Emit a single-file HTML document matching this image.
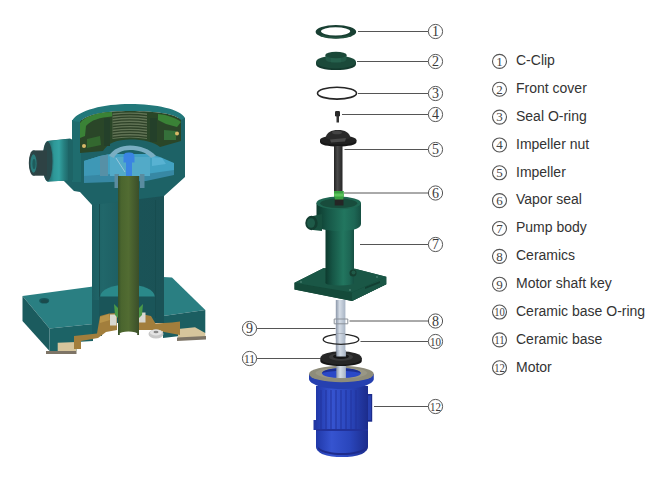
<!DOCTYPE html>
<html><head><meta charset="utf-8">
<style>
html,body{margin:0;padding:0;background:#fff;}
body{width:660px;height:500px;overflow:hidden;position:relative;font-family:"Liberation Sans",sans-serif;}
svg{position:absolute;left:0;top:0;}
.lg{position:absolute;left:516px;font-size:14px;color:#333;white-space:nowrap;line-height:16px;}
</style></head><body>
<svg width="660" height="500" viewBox="0 0 660 500">
<defs>
  <linearGradient id="colG" x1="0" x2="1" y1="0" y2="0">
    <stop offset="0" stop-color="#1c5e62"/><stop offset="0.15" stop-color="#21676a"/><stop offset="0.35" stop-color="#1e6064"/><stop offset="0.65" stop-color="#1a5357"/><stop offset="1" stop-color="#1b5256"/>
  </linearGradient>
  <linearGradient id="shaftG" x1="0" x2="1">
    <stop offset="0" stop-color="#36502a"/><stop offset="0.15" stop-color="#4a652e"/><stop offset="0.5" stop-color="#526c32"/><stop offset="1" stop-color="#3a4e2a"/>
  </linearGradient>
  <linearGradient id="flangeG" x1="0" x2="0" y1="0" y2="1">
    <stop offset="0" stop-color="#2e9595"/><stop offset="0.5" stop-color="#2a8585"/><stop offset="1" stop-color="#1d5c5e"/>
  </linearGradient>
  <linearGradient id="pbG" x1="0" x2="1">
    <stop offset="0" stop-color="#0d3a2e"/><stop offset="0.25" stop-color="#165646"/><stop offset="0.62" stop-color="#22765f"/><stop offset="0.85" stop-color="#1d6654"/><stop offset="1" stop-color="#164f42"/>
  </linearGradient>
  <linearGradient id="shG" x1="0" x2="1">
    <stop offset="0" stop-color="#8a96a8"/><stop offset="0.4" stop-color="#d4dce6"/><stop offset="1" stop-color="#a8b4c4"/>
  </linearGradient>
  <linearGradient id="motG" x1="0" x2="1">
    <stop offset="0" stop-color="#2038a8"/><stop offset="0.3" stop-color="#3654d0"/><stop offset="0.65" stop-color="#2a46bc"/><stop offset="1" stop-color="#1c2c8c"/>
  </linearGradient>
  <linearGradient id="motG2" x1="0" x2="1">
    <stop offset="0" stop-color="#2440b4"/><stop offset="0.4" stop-color="#3050cc"/><stop offset="1" stop-color="#2236a0"/>
  </linearGradient>
  <linearGradient id="flG" x1="0" x2="1">
    <stop offset="0" stop-color="#1f6c6c"/><stop offset="0.3" stop-color="#2e9898"/><stop offset="0.55" stop-color="#33a2a2"/><stop offset="0.8" stop-color="#268080"/><stop offset="1" stop-color="#1f6a6c"/>
  </linearGradient>
  <linearGradient id="impG" x1="0" x2="1">
    <stop offset="0" stop-color="#222"/><stop offset="0.4" stop-color="#4a4a4a"/><stop offset="1" stop-color="#262626"/>
  </linearGradient>
</defs>

<!-- ============ LEFT CUTAWAY ============ -->
<g id="left">
  <!-- base left -->
  <polygon points="22.5,296 93,286.5 93,324 49.5,328.5" fill="#2a7f82"/>
  <polygon points="22.5,296 49.5,328.5 49.5,351 22.5,321" fill="#1b5b5e"/>
  <polygon points="49.5,328.5 93,324 93,341 76.5,342 76.5,351 49.5,351" fill="#1c6366"/>
  <ellipse cx="44.2" cy="300.7" rx="5" ry="2.8" fill="#17565a"/>
  <ellipse cx="44.5" cy="301.3" rx="3.6" ry="1.8" fill="#1b4a4c"/>
  <!-- base right -->
  <polygon points="163,277 172,277.5 205.3,310 163,316" fill="#2a7f82"/>
  <polygon points="163,316 205.3,310 205.3,333 163,338" fill="#1b5e61"/>
  <!-- feet -->
  <polygon points="57.7,342.7 76.5,342 76.5,351 57.7,351" fill="#d6c59c"/>
  <polygon points="46,351 76.5,351 76.5,354 46,354" fill="#7d7466"/>
  <polygon points="178,329 195,327.2 205.3,333 205.3,337 178,338.5" fill="#d6c59c"/>
  <polygon points="177,337.5 206,336 206,339.5 177,341" fill="#7d7466"/>
  <!-- column -->
  <rect x="92" y="190" width="72" height="133" fill="url(#colG)"/>
  <rect x="92" y="300" width="10" height="36" fill="#1b5c60"/>
  <rect x="155" y="300" width="9" height="22" fill="#1a5256"/>
  <line x1="99.5" y1="200" x2="99.5" y2="318" stroke="#174d50" stroke-width="1"/>
  <line x1="155.5" y1="200" x2="155.5" y2="318" stroke="#174d50" stroke-width="1"/>
  <ellipse cx="127.5" cy="296.5" rx="27.3" ry="12" fill="#2a898a"/>
  <rect x="99" y="296.5" width="56" height="26" fill="#1a5559"/>
  <!-- brown bearing housing -->
  <polygon points="74,349 74,336 97,333.5 100,316 109,313.5 117,313 117,330 106,332 98,338 81,341 81,349" fill="#a27e3c"/>
  <polygon points="139,313.5 151,316 155.5,323.5 172,322.5 180,321.5 180,335 164,332 159,330 139,330" fill="#a27e3c"/>
  <polygon points="100,317 109,314 110,320 100,323" fill="#b8944a"/>
  <rect x="110" y="314.5" width="6.5" height="11" fill="#d8d8d0"/>
  <rect x="138.5" y="312.5" width="7" height="10" fill="#d8d8d0"/>
  <!-- housing -->
  <polygon points="72,120 185,118 185,177 164,196 92,205 80,192 74,191 63,180 72,180" fill="#1d6266"/>
  <rect x="72" y="120" width="9" height="62" fill="#1f6c6e"/>
  <!-- rim -->
  <path d="M72,121 C78,110 104,104 130,104 C156,104 180,109 185,118 L181,120 C176,114 156,111 130,111 C106,111 86,114 80,122 Z" fill="#22787a"/>
  <!-- green cover -->
  <path d="M80,122 C86,114 106,111 130,111 C156,111 176,114 181,120 L181,141 L160,147 C154,142 144,139.5 130,139.5 C117,139.5 108,143 103,151 L80,153 Z" fill="#2a4628"/>
  <path d="M80,123 C86,115 100,112.5 112,112 L112,116.5 C100,117.5 91,120 86,126 L85,136 L80,138 Z" fill="#3a8236"/>
  <path d="M87,139 L100,136 L101,145 L87,148 Z" fill="#33682f"/>
  <path d="M158,114 C168,115 176,118 181,122 L177,127 L166,124 L158,120 Z" fill="#3a8236"/>
  <path d="M164,130 L176,131 L176,140 L164,140 Z" fill="#35703a"/>
  <rect x="104" y="118" width="6" height="28" fill="#24402a"/>
  <rect x="150" y="118" width="7" height="24" fill="#24402a"/>
  <path d="M112.5,113.5 Q130,111.5 147,113.5 L147,139 Q130,136 112.5,139 Z" fill="#627456"/>
  <g stroke="#2e4228" stroke-width="1.3" fill="none">
    <path d="M112.5,115.7 Q130,113.3 147,115.7"/>
    <path d="M112.5,118.4 Q130,116.0 147,118.4"/>
    <path d="M112.5,121.1 Q130,118.7 147,121.1"/>
    <path d="M112.5,123.8 Q130,121.4 147,123.8"/>
    <path d="M112.5,126.5 Q130,124.1 147,126.5"/>
    <path d="M112.5,129.2 Q130,126.8 147,129.2"/>
    <path d="M112.5,131.9 Q130,129.5 147,131.9"/>
    <path d="M112.5,134.6 Q130,132.2 147,134.6"/>
    <path d="M112.5,137.3 Q130,134.9 147,137.3"/>
  </g>
  <circle cx="84" cy="146" r="2" fill="#d8b868"/>
  <circle cx="177" cy="133.5" r="2" fill="#d8b868"/>
  <!-- side port -->
  <path d="M47,141 L70,138.5 L73,140 L73,180 L70,180.5 L47,181.5 Z" fill="#1d6466"/>
  <path d="M48,141 L68,139 L68,180.5 L48,181.5 Z" fill="url(#flG)"/>
  <ellipse cx="48" cy="161.3" rx="5.5" ry="20.3" fill="#2a7e80"/>
  <ellipse cx="47.5" cy="161.3" rx="5" ry="19.8" fill="#28484a"/>
  <path d="M33.5,150.4 L47,150.4 L47,175.7 L33.5,175.7 Z" fill="#2e4244"/>
  <ellipse cx="33.5" cy="163" rx="4.7" ry="12.65" fill="#2c4547"/>
  <ellipse cx="33.5" cy="163.5" rx="3.1" ry="9.2" fill="#2a7c7c"/>
  <ellipse cx="34" cy="164" rx="1.6" ry="5" fill="#1e5c5c"/>
  <!-- light blue chamber -->
  <path d="M84,161 L100,156 L110,154 L150,154 L160,157 L174,163 L174,171 L146,176 L112,176 L84,178 Z" fill="#42a2c2"/>
  <path d="M84,161 L100,156 L100,176 L84,178 Z" fill="#3e98b6"/>
  <path d="M84,176 L112,174 L146,174 L174,170 L174,175 L146,181 L112,182 L84,183 Z" fill="#3788a4"/>
  <path d="M100,156 L108,154.5 L108,176 L100,176 Z" fill="#5690a6"/>
  <path d="M110,157 L150,157 L150,176 L110,176 Z" fill="#52aac8"/>
  <path d="M109,156 C113,149 121,145.5 130,145.5 C140,145.5 150,149 156,156 L151,158 C146,152 138,150 130,150 C122,150 116,153 114,158 Z" fill="#7aaec2"/>
  <path d="M152,157 L162,158 L166,164 L152,166 Z" fill="#58b2d2"/>
  <line x1="116" y1="158" x2="125" y2="172" stroke="#9ac8dc" stroke-width="1"/>
  <path d="M123.5,157 C123.5,153 126,152.5 129,152.5 C132,152.5 134.5,153 134.5,157 L134.5,162.5 L132,162.5 L132,179 L126,179 L126,162.5 L123.5,162.5 Z" fill="#3a84e2"/>
  <rect x="114.5" y="174" width="4.5" height="14" fill="#5a8ca0"/>
  <rect x="140" y="174" width="4.5" height="14" fill="#5a8ca0"/>
  <!-- shaft -->
  <rect x="118" y="176" width="21" height="159" fill="url(#shaftG)"/>
  <ellipse cx="128.5" cy="334" rx="9" ry="2.5" fill="#fff"/>
  <path d="M114,304 L118,308 L118,318 L115,315 Z" fill="#4a9a48"/>
  <path d="M143,304 L139,308 L139,318 L142,315 Z" fill="#4a9a48"/>
  <!-- nut -->
  <ellipse cx="156" cy="334" rx="7.5" ry="4.5" fill="#c8c8c8"/>
  <ellipse cx="156" cy="332.5" rx="6" ry="3" fill="#e4e4e4"/>
  <ellipse cx="156" cy="332" rx="2.5" ry="1.3" fill="#8a8a8a"/>
</g>

<!-- ============ EXPLODED VIEW ============ -->
<g id="mid">
  <!-- 1 C-clip -->
  <path fill-rule="evenodd" fill="#183f32" d="M315.6,31.8 a20.3,6.9 0 1,0 40.6,0 a20.3,6.9 0 1,0 -40.6,0 Z M321,31.3 a14.6,4.1 0 1,0 29.2,0 a14.6,4.1 0 1,0 -29.2,0 Z"/>
  <path fill="#22523f" d="M322,35 C328,37.5 344,37.5 350,35 L352,36 C345,39 327,39 320,36 Z"/>
  <!-- 2 front cover -->
  <path d="M316,62 L316,64 C316,68 325,70 336,70 C347,70 356,68 356,64 L356,62 Z" fill="#143a2e"/>
  <ellipse cx="336" cy="62" rx="20" ry="6.5" fill="#1b4a3a"/>
  <path d="M325.5,55 L325.5,59 C325.5,61.5 330,62.5 336,62.5 C342,62.5 346.5,61.5 346.5,59 L346.5,55 Z" fill="#235a48"/>
  <path d="M331,57 L341,57 L341,62.3 L331,62.3 Z" fill="#27634f" opacity="0.8"/>
  <ellipse cx="336" cy="55" rx="10.7" ry="3.2" fill="#1a4838"/>
  <!-- 3 O-ring -->
  <ellipse cx="337" cy="93.2" rx="19.5" ry="5.9" fill="none" stroke="#262626" stroke-width="1.6"/>
  <!-- 4 nut -->
  <rect x="335" y="111" width="5" height="5.5" rx="1.2" fill="#2a2a2a"/>
  <rect x="336.5" y="116" width="2.5" height="6.5" fill="#333"/>
  <!-- 5 impeller -->
  <path d="M320,140 L320,142 C320,145 328,146.5 338,146.5 C348,146.5 356.5,145 356.5,142 L356.5,140 Z" fill="#181818"/>
  <ellipse cx="338.2" cy="140" rx="18.2" ry="4.5" fill="#222"/>
  <path d="M325.6,138 C326.5,132.5 331,130 338,130 C345,130 349.5,132.5 350.6,138 C346,141 330,141 325.6,138 Z" fill="#2a2a2a"/>
  <path d="M330,139.5 L346,138 L345,141.5 L331,142.5 Z" fill="#4a4a4a"/>
  <ellipse cx="337" cy="132.5" rx="5" ry="1.8" fill="#444"/>
  <rect x="334" y="146" width="8.5" height="60" fill="url(#impG)"/>
  <!-- 6 vapor seal -->
  <rect x="334" y="191" width="9.5" height="8.5" fill="#38a040"/>
  <rect x="334" y="193.5" width="9.5" height="3" fill="#5cc45c"/>
  <!-- 7 pump body -->
  <polygon points="294.5,282.7 323.3,268.3 355,268.8 386.2,276.7 386.2,284.2 352,301 294.5,289.5" fill="#164a3a"/>
  <polygon points="294.5,282.7 294.5,289.5 352,301 386.2,284.2 386.2,276.7 352,292.6" fill="#154a3a"/>
  <polygon points="352,292.6 386.2,276.7 386.2,284.2 352,301" fill="#1a5645"/>
  <polygon points="294.5,282.7 323.3,268.3 355,268.8 386.2,276.7 352,292.6" fill="#1a5746"/>
  <polygon points="365,287 380,281 380,283 365,289" fill="#123f32"/>
  <circle cx="301" cy="282" r="0.9" fill="#4a8070"/>
  <circle cx="350" cy="290" r="0.9" fill="#4a8070"/>
  <circle cx="377" cy="277" r="0.9" fill="#4a8070"/>
  <rect x="325.5" y="226" width="28.5" height="57" fill="url(#pbG)"/>
  <ellipse cx="339.75" cy="283" rx="14.25" ry="2.5" fill="url(#pbG)"/>
  <circle cx="353" cy="273" r="3.5" fill="#163e30"/>
  <circle cx="353.5" cy="272.5" r="2" fill="#1f5a48"/>
  <path d="M316.5,203 L316.5,224 C316.5,229 327,231 338.7,231 C350.5,231 361,229 361,224 L361,203 Z" fill="url(#pbG)"/>
  <ellipse cx="338.7" cy="203" rx="22.3" ry="6.5" fill="#1f6652"/>
  <ellipse cx="338.7" cy="203.3" rx="18.5" ry="4.8" fill="#184c3c"/>
  <rect x="334.7" y="198" width="8.8" height="7.5" fill="#252525"/>
  <rect x="334.7" y="191" width="8.8" height="8.5" fill="#38a040"/>
  <rect x="334.7" y="193.5" width="8.8" height="3" fill="#5cc45c"/>
  <path d="M313,216 L322,214 L322,231 L313,230 Z" fill="#17503f"/>
  <ellipse cx="311.5" cy="223" rx="6.2" ry="7.2" fill="#133e31"/>
  <ellipse cx="311" cy="223" rx="4" ry="4.8" fill="#1e5a48"/>
  <!-- shaft below -->
  <rect x="335.8" y="300" width="9.6" height="55" fill="url(#shG)"/>
  <path d="M334.2,319 L347.8,319 L347.8,323.8 L334.2,323.8 Z" fill="none" stroke="#8a9098" stroke-width="1"/>
  <!-- 10 O-ring -->
  <ellipse cx="341" cy="339.4" rx="17.8" ry="5" fill="none" stroke="#262626" stroke-width="1.3"/>
  <rect x="335.8" y="334" width="9.6" height="4.5" fill="url(#shG)"/>
  <!-- 12 motor -->
  <path d="M316,386 L368,386 L368,447 C368,449 366,452 362,454 C356,456.5 349,457 342,457 C335,457 328,456.5 322,454 C318,452 316,449 316,447 Z" fill="url(#motG)"/>
  <g stroke="#22349c" stroke-width="1.3" opacity="0.75">
    <line x1="321" y1="390" x2="321" y2="429"/><line x1="326" y1="390" x2="326" y2="429"/>
    <line x1="331" y1="390" x2="331" y2="429"/><line x1="336" y1="390" x2="336" y2="429"/>
    <line x1="341" y1="390" x2="341" y2="429"/><line x1="346" y1="390" x2="346" y2="429"/>
    <line x1="351" y1="390" x2="351" y2="429"/><line x1="356" y1="390" x2="356" y2="429"/>
  </g>
  <path d="M316,429 L368,429 L368,431 L316,431 Z" fill="#22329a"/>
  <path d="M318,447 C322,451 332,453 342,453 C352,453 362,451 366,447 L366,449 C362,453 352,455 342,455 C332,455 322,453 318,449 Z" fill="#1e2c8c"/>
  <rect x="313.5" y="420" width="3" height="10" fill="#2238a4"/>
  <rect x="367" y="394" width="5.2" height="27.7" fill="#1c2c8c"/>
  <rect x="368" y="395.5" width="3" height="24.5" fill="#2840b0"/>
  <!-- flange -->
  <path d="M309,374 L309,379 C309,384 323,389 341.4,389 C360,389 373.8,384 373.8,379 L373.8,374 Z" fill="#2640b0"/>
  <ellipse cx="341.4" cy="374" rx="32.4" ry="8.2" fill="#8e8c7a"/>
  <ellipse cx="341.4" cy="373" rx="26" ry="5.5" fill="#a09e8c" opacity="0.6"/>
  <ellipse cx="341.4" cy="373.2" rx="19.3" ry="4.9" fill="#2a48c8"/>
  <path d="M322.1,373.2 C322.1,370.5 330,368.3 341.4,368.3 C352.8,368.3 360.7,370.5 360.7,373.2 C356,371.5 348,371 341.4,371 C334,371 326,371.5 322.1,373.2 Z" fill="#1c2e90"/>
  <rect x="336.3" y="366" width="9.6" height="12" fill="url(#shG)"/>
  <!-- 11 ceramic base -->
  <path d="M320.3,358 L320.3,361 C320.3,364.5 330,366 341,366 C352,366 361.8,364.5 361.8,361 L361.8,358 Z" fill="#161616"/>
  <ellipse cx="341" cy="358" rx="20.7" ry="6.7" fill="#262626"/>
  <ellipse cx="341" cy="357" rx="12" ry="3.8" fill="#3a3a3a"/>
  <ellipse cx="341" cy="356.5" rx="8" ry="2.6" fill="#161616"/>
  <rect x="336.3" y="350" width="9.6" height="6.5" fill="url(#shG)"/>
</g>

<!-- ============ CALLOUTS ============ -->
<g stroke="#555" stroke-width="1" fill="none">
  <line x1="358" y1="31.5" x2="428.3" y2="31.5"/>
  <line x1="357" y1="61.5" x2="428.3" y2="61.5"/>
  <line x1="358" y1="93.5" x2="428.3" y2="93.5"/>
  <line x1="342" y1="114.5" x2="428.3" y2="114.5"/>
  <line x1="344.5" y1="149.5" x2="428.3" y2="149.5"/>
  <line x1="344" y1="193" x2="428.3" y2="193"/>
  <line x1="360" y1="244.5" x2="428.3" y2="244.5"/>
  <line x1="349.5" y1="321" x2="428.3" y2="321"/>
  <line x1="360.5" y1="341.5" x2="428.3" y2="341.5"/>
  <line x1="374" y1="406.5" x2="428.3" y2="406.5"/>
  <line x1="257" y1="328.5" x2="335.5" y2="328.5"/>
  <line x1="257" y1="358.5" x2="320" y2="358.5"/>
</g>
<g font-family="Liberation Serif" fill="#3a3a3a">
  <circle cx="435.5" cy="31.5" r="7.1" fill="#fff" stroke="#555" stroke-width="1.0"/>
  <text x="435.5" y="36.00" font-size="14" text-anchor="middle">1</text>
  <circle cx="435.5" cy="61.5" r="7.1" fill="#fff" stroke="#555" stroke-width="1.0"/>
  <text x="435.5" y="66.00" font-size="14" text-anchor="middle">2</text>
  <circle cx="435.5" cy="93.5" r="7.1" fill="#fff" stroke="#555" stroke-width="1.0"/>
  <text x="435.5" y="98.00" font-size="14" text-anchor="middle">3</text>
  <circle cx="435.5" cy="114.5" r="7.1" fill="#fff" stroke="#555" stroke-width="1.0"/>
  <text x="435.5" y="119.00" font-size="14" text-anchor="middle">4</text>
  <circle cx="435.5" cy="149.5" r="7.1" fill="#fff" stroke="#555" stroke-width="1.0"/>
  <text x="435.5" y="154.00" font-size="14" text-anchor="middle">5</text>
  <circle cx="435.5" cy="193" r="7.1" fill="#fff" stroke="#555" stroke-width="1.0"/>
  <text x="435.5" y="197.50" font-size="14" text-anchor="middle">6</text>
  <circle cx="435.5" cy="244.5" r="7.1" fill="#fff" stroke="#555" stroke-width="1.0"/>
  <text x="435.5" y="249.00" font-size="14" text-anchor="middle">7</text>
  <circle cx="435.5" cy="321" r="7.1" fill="#fff" stroke="#555" stroke-width="1.0"/>
  <text x="435.5" y="325.50" font-size="14" text-anchor="middle">8</text>
  <circle cx="435.5" cy="341.5" r="7.1" fill="#fff" stroke="#555" stroke-width="1.0"/>
  <text x="435.5" y="345.80" font-size="13.5" text-anchor="middle" textLength="11" lengthAdjust="spacingAndGlyphs">10</text>
  <circle cx="435.5" cy="406.5" r="7.1" fill="#fff" stroke="#555" stroke-width="1.0"/>
  <text x="435.5" y="410.80" font-size="13.5" text-anchor="middle" textLength="11" lengthAdjust="spacingAndGlyphs">12</text>
  <circle cx="249.5" cy="328.5" r="7.1" fill="#fff" stroke="#555" stroke-width="1.0"/>
  <text x="249.5" y="333.00" font-size="14" text-anchor="middle">9</text>
  <circle cx="249.5" cy="358.5" r="7.1" fill="#fff" stroke="#555" stroke-width="1.0"/>
  <text x="249.5" y="362.80" font-size="13.5" text-anchor="middle" textLength="11" lengthAdjust="spacingAndGlyphs">11</text>
</g>
<!-- ============ LEGEND ============ -->
<g font-family="Liberation Serif" fill="#444">
  <circle cx="499.5" cy="61.40" r="7.0" fill="#fff" stroke="#555" stroke-width="1.1"/>
  <text x="499.5" y="65.70" font-size="13" text-anchor="middle">1</text>
  <circle cx="499.5" cy="89.25" r="7.0" fill="#fff" stroke="#555" stroke-width="1.1"/>
  <text x="499.5" y="93.55" font-size="13" text-anchor="middle">2</text>
  <circle cx="499.5" cy="117.10" r="7.0" fill="#fff" stroke="#555" stroke-width="1.1"/>
  <text x="499.5" y="121.40" font-size="13" text-anchor="middle">3</text>
  <circle cx="499.5" cy="144.95" r="7.0" fill="#fff" stroke="#555" stroke-width="1.1"/>
  <text x="499.5" y="149.25" font-size="13" text-anchor="middle">4</text>
  <circle cx="499.5" cy="172.80" r="7.0" fill="#fff" stroke="#555" stroke-width="1.1"/>
  <text x="499.5" y="177.10" font-size="13" text-anchor="middle">5</text>
  <circle cx="499.5" cy="200.65" r="7.0" fill="#fff" stroke="#555" stroke-width="1.1"/>
  <text x="499.5" y="204.95" font-size="13" text-anchor="middle">6</text>
  <circle cx="499.5" cy="228.50" r="7.0" fill="#fff" stroke="#555" stroke-width="1.1"/>
  <text x="499.5" y="232.80" font-size="13" text-anchor="middle">7</text>
  <circle cx="499.5" cy="256.35" r="7.0" fill="#fff" stroke="#555" stroke-width="1.1"/>
  <text x="499.5" y="260.65" font-size="13" text-anchor="middle">8</text>
  <circle cx="499.5" cy="284.20" r="7.0" fill="#fff" stroke="#555" stroke-width="1.1"/>
  <text x="499.5" y="288.50" font-size="13" text-anchor="middle">9</text>
  <circle cx="499.5" cy="312.05" r="7.0" fill="#fff" stroke="#555" stroke-width="1.1"/>
  <text x="499.5" y="316.25" font-size="13" text-anchor="middle" textLength="10.6" lengthAdjust="spacingAndGlyphs">10</text>
  <circle cx="499.5" cy="339.90" r="7.0" fill="#fff" stroke="#555" stroke-width="1.1"/>
  <text x="499.5" y="344.10" font-size="13" text-anchor="middle" textLength="10.6" lengthAdjust="spacingAndGlyphs">11</text>
  <circle cx="499.5" cy="367.75" r="7.0" fill="#fff" stroke="#555" stroke-width="1.1"/>
  <text x="499.5" y="371.95" font-size="13" text-anchor="middle" textLength="10.6" lengthAdjust="spacingAndGlyphs">12</text>
</g>
<g font-family="Liberation Sans" font-size="14" fill="#333">
  <text x="516" y="65.20">C-Clip</text>
  <text x="516" y="93.05">Front cover</text>
  <text x="516" y="120.90">Seal O-ring</text>
  <text x="516" y="148.75">Impeller nut</text>
  <text x="516" y="176.60">Impeller</text>
  <text x="516" y="204.45">Vapor seal</text>
  <text x="516" y="232.30">Pump body</text>
  <text x="516" y="260.15">Ceramics</text>
  <text x="516" y="288.00">Motor shaft key</text>
  <text x="516" y="315.85">Ceramic base O-ring</text>
  <text x="516" y="343.70">Ceramic base</text>
  <text x="516" y="371.55">Motor</text>
</g>
</svg>
</body></html>
